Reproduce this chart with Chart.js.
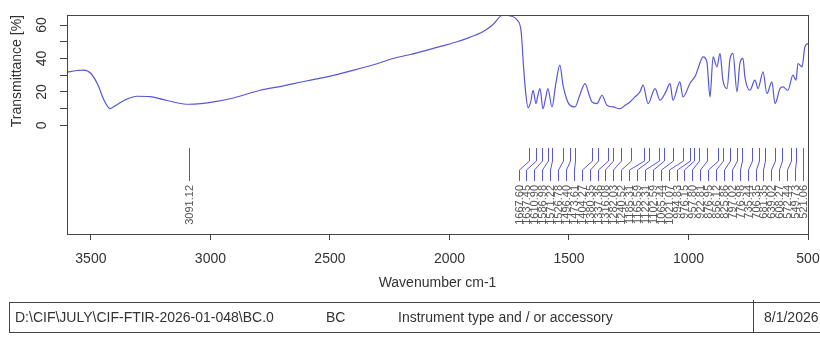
<!DOCTYPE html>
<html><head><meta charset="utf-8">
<script src="https://cdn.jsdelivr.net/npm/chart.js@4.4.1/dist/chart.umd.min.js"></script>
<style>html,body{margin:0;padding:0;background:#fff;}</style>
</head><body>
<canvas id="c" width="820" height="338"></canvas>
<script>
// ---- data ----
const wavenumbers = [3600,3560,3530,3500,3470,3445,3420,3395,3360,3307,3253,3200,3150,3091,3040,2980,2900,2792,2700,2600,2512,2400,2300,2236,2160,2094,2030,1968,1927,1890,1860,1820,1776,1745,1717,1700,1690,1680,1671,1660,1650,1638,1630,1621,1609,1598,1588,1571,1555,1538,1525,1508,1496,1475,1455,1433,1415,1404,1383,1362,1341,1316,1287,1265,1245,1224,1203,1190,1169,1140,1119,1095,1077,1065,1036,1023,994,970,960,939,923,910,897,881,868,856,839,826,814,797,785,772,764,743,722,709,688,672,651,638,617,605,584,563,550,542,525,513,500];
const transmittance = [31.8,32.8,33.0,31,24,15,10,12,15,17.4,17.2,15.5,13.8,12.6,13.0,14.2,16.5,21,23.5,26.5,29,33,37,40,42.5,45,47.5,50,52,54,56,60,66,65.5,63,56,35,18,10.5,14,21,13,18,22,10,16,22,11,25,36,24,15,12,11,18,25,18,14,13,18,12,11,10,12,14,17,20,24,13,22,15,20,25,15,26,17,25,30,34,41,38,17,41,35,43,27,22,40,43,20,37,40,29,21,27,22,32,19,26,13,22,23,21,30,27,37,35,47,49];
const peakPositions = [3091.12,1667.60,1637.45,1610.90,1586.98,1571.22,1526.78,1496.40,1473.61,1404.27,1380.35,1337.36,1316.08,1282.03,1240.52,1185.31,1165.59,1122.31,1102.59,1065.44,1021.07,994.83,976.15,957.80,922.81,876.95,856.12,825.86,797.02,776.98,735.44,706.35,681.35,639.02,608.27,572.44,549.73,521.06];
const xTickValues = [3500,3000,2500,2000,1500,1000,500];
const yTickValues = [0,10,20,30,40,50,60];
const yTickLabels = ['0','','20','','40','','60'];
const infoCells = ['D:\\CIF\\JULY\\CIF-FTIR-2026-01-048\\BC.0','BC','Instrument type and / or accessory','8/1/2026'];

// ---- styles ----
const FONT = '"Liberation Sans", Arial, sans-serif';
const LINE_COLOR = '#5757d8';
const AXIS_COLOR = '#444';
const TEXT_COLOR = '#333';

// pack labels from the right edge leftwards, keeping a minimum gap
function spread(xs, s, lo, hi) {
  const out = xs.slice();
  for (let i = out.length - 1; i >= 0; i--) {
    const lim = i === out.length - 1 ? hi : out[i + 1] - s;
    out[i] = Math.min(xs[i], lim);
  }
  for (let i = 0; i < out.length; i++) {
    const lim = i === 0 ? lo : out[i - 1] + s;
    out[i] = Math.max(out[i], lim);
  }
  return out;
}

const boxPlugin = {
  id: 'box',
  afterDraw(chart) {
    const {ctx, chartArea: ca} = chart;
    ctx.save();
    ctx.strokeStyle = AXIS_COLOR; ctx.lineWidth = 1;
    ctx.strokeRect(Math.round(ca.left) + 0.5, Math.round(ca.top) + 0.5, Math.round(ca.right - ca.left), Math.round(ca.bottom - ca.top));
    ctx.restore();
  }
};

const peakPlugin = {
  id: 'peaks',
  afterDatasetsDraw(chart) {
    const {ctx, chartArea: ca, scales: {x}} = chart;
    const px = peakPositions.map(p => x.getPixelForValue(p));
    const idx = px.map((v, i) => i).sort((a, b) => px[a] - px[b]);
    const sorted = idx.map(i => px[i]);
    const lx = spread(sorted, 7.9, ca.left + 4, ca.right - 2);
    const y1 = ca.top + 133, y2 = ca.top + 146, y3 = ca.top + 155, y4 = ca.top + 166, yt = ca.top + 170;
    ctx.save();
    ctx.strokeStyle = LINE_COLOR; ctx.lineWidth = 1;
    ctx.beginPath();
    sorted.forEach((p, k) => {
      const a = Math.round(p) + 0.5, b = Math.round(lx[k]) + 0.5;
      ctx.moveTo(a, y1); ctx.lineTo(a, y2); ctx.lineTo(b, y3); ctx.lineTo(b, y4);
    });
    ctx.stroke();
    ctx.fillStyle = '#555';
    ctx.font = '11px ' + FONT;
    ctx.textAlign = 'right'; ctx.textBaseline = 'middle';
    idx.forEach((i, k) => {
      ctx.save();
      ctx.translate(Math.round(lx[k]) + 0.5, yt);
      ctx.rotate(-Math.PI / 2);
      ctx.fillText(peakPositions[i].toFixed(2), 0, 0);
      ctx.restore();
    });
    ctx.restore();
  }
};

const tablePlugin = {
  id: 'table',
  afterDraw(chart) {
    const {ctx} = chart;
    ctx.save();
    ctx.strokeStyle = AXIS_COLOR; ctx.lineWidth = 1;
    ctx.strokeRect(9.5, 302.5, 830, 30);
    ctx.beginPath(); ctx.moveTo(753.5, 300); ctx.lineTo(753.5, 333); ctx.stroke();
    ctx.fillStyle = TEXT_COLOR;
    ctx.font = '14px ' + FONT;
    ctx.textBaseline = 'middle'; ctx.textAlign = 'left';
    const xs = [15, 326, 398, 764];
    infoCells.forEach((t, i) => ctx.fillText(t, xs[i], 318));
    ctx.restore();
  }
};

new Chart(document.getElementById('c'), {
  type: 'line',
  data: {
    datasets: [{
      data: wavenumbers.map((w, i) => ({x: w, y: transmittance[i]})),
      borderColor: LINE_COLOR, borderWidth: 1.2, pointRadius: 0,
      tension: 0.3, cubicInterpolationMode: 'monotone', fill: false
    }]
  },
  options: {
    responsive: false, animation: false, devicePixelRatio: 1,
    layout: {padding: {left: 0, right: 12, top: 15, bottom: 0}},
    plugins: {legend: {display: false}, tooltip: {enabled: false}},
    scales: {
      x: {
        type: 'linear', reverse: true, min: 500, max: 3600,
        afterBuildTicks: s => { s.ticks = xTickValues.map(v => ({value: v})); },
        afterFit: s => { s.height = 104; s.paddingLeft = 0; s.paddingRight = 0; },
        ticks: {autoSkip: false, maxRotation: 0, padding: 11, color: TEXT_COLOR, font: {family: FONT, size: 14}, callback: v => String(v)},
        grid: {drawOnChartArea: false, drawTicks: true, tickLength: 6, color: AXIS_COLOR},
        border: {display: true, color: AXIS_COLOR},
        title: {display: true, text: 'Wavenumber cm-1', color: TEXT_COLOR, font: {family: FONT, size: 14}, padding: {top: 0, bottom: 46}}
      },
      y: {
        type: 'linear', min: -65, max: 66,
        afterBuildTicks: s => { s.ticks = yTickValues.map(v => ({value: v})); },
        afterFit: s => { s.width = 67; s.paddingTop = 0; s.paddingBottom = 0; },
        ticks: {autoSkip: false, minRotation: 90, maxRotation: 90, crossAlign: 'center', padding: 10, color: TEXT_COLOR, font: {family: FONT, size: 14},
          callback: (v, i) => yTickLabels[i]},
        grid: {drawOnChartArea: false, drawTicks: true, tickLength: 7, color: AXIS_COLOR},
        border: {display: true, color: AXIS_COLOR},
        title: {display: true, text: 'Transmittance [%]', align: 'end', color: TEXT_COLOR, font: {family: FONT, size: 14}, padding: {top: 9, bottom: 0}}
      }
    }
  },
  plugins: [boxPlugin, peakPlugin, tablePlugin]
});
</script>
</body></html>
